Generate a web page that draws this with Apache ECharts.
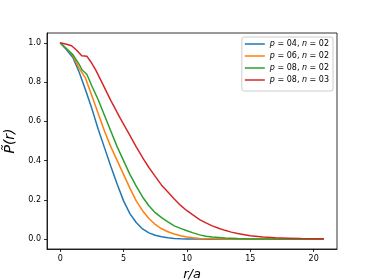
<!DOCTYPE html>
<html>
<head>
<meta charset="utf-8">
<script src="https://cdn.jsdelivr.net/npm/echarts@6/dist/echarts.min.js"></script>
<style>html,body{margin:0;padding:0;background:#fff;}#c{width:374px;height:280px;}</style>
</head>
<body>
<div id="c"></div>
<script>
var xTicks = [0, 5, 10, 15, 20];
var yTicks = [0, 0.2, 0.4, 0.6, 0.8, 1.0];
var names = ['p = 04, n = 02', 'p = 06, n = 02', 'p = 08, n = 02', 'p = 08, n = 03'];

var rB = [0,0.5,1,1.5,2,2.5,3,3.5,4,4.5,5,5.5,6,6.5,7,7.5,8,8.5,9,9.5,10,11,12,14,16,18,20.8];
var pB = [1,0.965,0.925,0.85,0.76,0.665,0.56,0.465,0.37,0.28,0.195,0.13,0.085,0.052,0.032,0.02,0.012,0.007,0.004,0.002,0.001,0.0005,0,0,0,0,0];

var rO = [0,0.5,1,1.5,2,2.5,3,3.5,4,4.5,5,5.5,6,6.5,7,7.5,8,8.5,9,9.5,10,10.5,11,12,13,14,16,18,20.8];
var pO = [1,0.97,0.935,0.87,0.82,0.73,0.64,0.55,0.47,0.40,0.33,0.26,0.195,0.145,0.105,0.075,0.053,0.038,0.026,0.017,0.011,0.007,0.004,0.002,0.001,0.0005,0,0,0];

var rG = [0,0.5,1,1.5,1.75,2.1,2.5,3,3.5,4,4.5,5,5.5,6,6.5,7,7.5,8,8.5,9,9.5,10,10.5,11,11.5,12,13,14,15,16,18,20.8];
var pG = [1,0.97,0.94,0.89,0.86,0.84,0.78,0.71,0.63,0.55,0.47,0.40,0.33,0.27,0.215,0.17,0.135,0.11,0.088,0.068,0.055,0.043,0.032,0.022,0.015,0.011,0.006,0.003,0.0015,0.001,0,0];

var rR = [0,0.5,0.9,1.3,1.7,2.1,2.4,2.8,3.3,4,4.7,5.4,6,6.6,7,7.5,8,8.5,9,9.5,10,10.5,11,11.5,12,12.5,13,13.5,14,15,16,17,18,19,20,20.8];
var pR = [1,0.993,0.985,0.962,0.934,0.932,0.905,0.862,0.797,0.706,0.62,0.54,0.47,0.405,0.365,0.32,0.275,0.24,0.205,0.172,0.145,0.122,0.10,0.083,0.068,0.056,0.045,0.036,0.029,0.018,0.011,0.007,0.005,0.003,0.002,0.002];

var colors = ['#1f77b4', '#ff7f0e', '#2ca02c', '#d62728'];
var rs = [rB, rO, rG, rR];
var ps = [pB, pO, pG, pR];

function pairs(r, p) { return r.map(function (v, i) { return [v, p[i]]; }); }

var FONT = 'DejaVu Sans';
var chart = echarts.init(document.getElementById('c'), null, {renderer: 'canvas'});
chart.setOption({
  animation: false,
  backgroundColor: '#fff',
  color: colors,
  grid: {left: 47, right: 37, top: 33, bottom: 31, show: true, borderColor: '#000', borderWidth: 0.8,
    containLabel: false, outerBoundsMode: 'none'},
  xAxis: {
    type: 'value', min: -1.04, max: 21.84,
    name: 'r/a', nameLocation: 'middle', nameGap: 13,
    nameTextStyle: {fontFamily: FONT, fontStyle: 'italic', fontSize: 13, color: '#000'},
    axisLine: {show: true, onZero: false, lineStyle: {color: '#000', width: 0.8}},
    axisTick: {show: true, inside: false, length: 3, customValues: xTicks, lineStyle: {color: '#000', width: 0.8}},
    axisLabel: {customValues: xTicks, margin: 6, fontFamily: FONT, fontSize: 8, color: '#000', formatter: function (v) { return String(v); }},
    splitLine: {show: false}
  },
  yAxis: {
    type: 'value', min: -0.05, max: 1.05,
    name: 'P\u0303(r)', nameLocation: 'middle', nameGap: 22,
    nameTextStyle: {fontFamily: FONT, fontStyle: 'italic', fontSize: 14, color: '#000'},
    axisLine: {show: true, onZero: false, lineStyle: {color: '#000', width: 0.8}},
    axisTick: {show: true, inside: false, length: 3, customValues: yTicks, lineStyle: {color: '#000', width: 0.8}},
    axisLabel: {customValues: yTicks, margin: 6, fontFamily: FONT, fontSize: 8, color: '#000', formatter: function (v) { return v.toFixed(1); }},
    splitLine: {show: false}
  },
  legend: {
    orient: 'vertical', right: 41, top: 37,
    backgroundColor: '#fff', borderColor: '#ccc', borderWidth: 1, borderRadius: 2,
    padding: [2, 4, 6, 3], itemGap: 2, itemWidth: 20, itemHeight: 1.5, icon: 'rect',
    textStyle: {fontFamily: FONT, fontSize: 8, color: '#000', lineHeight: 10,
      rich: {i: {fontFamily: FONT, fontStyle: 'italic', fontSize: 8, color: '#000', lineHeight: 10}}},
    formatter: function (n) { return n.replace(/p/g, '{i|p}').replace(/n =/g, '{i|n} ='); },
    data: names
  },
  series: names.map(function (n, i) {
    return {name: n, type: 'line', showSymbol: false, symbol: 'none', data: pairs(rs[i], ps[i]),
      lineStyle: {width: 1.5, color: colors[i]}, itemStyle: {color: colors[i]}};
  })
});
</script>
</body>
</html>
